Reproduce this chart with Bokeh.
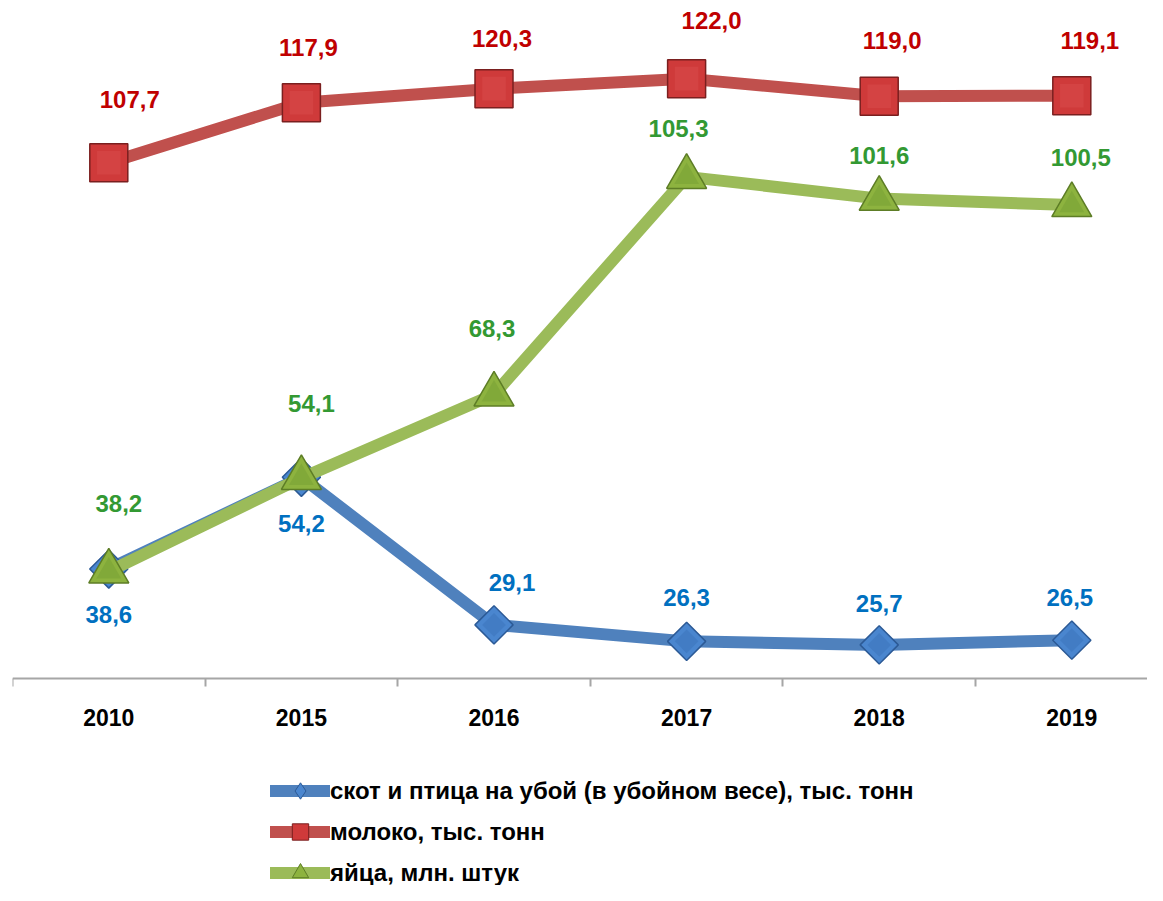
from bokeh.plotting import figure
from bokeh.models import Range1d, LinearAxis, FixedTicker, Legend, LegendItem, ColumnDataSource
from bokeh.core.properties import value
from bokeh.embed import file_html
from bokeh.resources import INLINE
import math

# ---------------- data ----------------
years = ["2010", "2015", "2016", "2017", "2018", "2019"]
meat = [38.6, 54.2, 29.1, 26.3, 25.7, 26.5]
milk = [107.7, 117.9, 120.3, 122.0, 119.0, 119.1]
eggs = [38.2, 54.1, 68.3, 105.3, 101.6, 100.5]
names = ["скот и птица на убой (в убойном весе), тыс. тонн",
         "молоко, тыс. тонн",
         "яйца, млн. штук"]

FONT = "Liberation Sans"

x = list(range(len(years)))

p = figure(width=1147, height=885, output_backend="svg", toolbar_location=None,
           x_range=Range1d(-0.5, 5.393), y_range=Range1d(-15.22, 135.29),
           x_axis_location=None, y_axis_location=None,
           min_border_left=12, min_border_right=0, min_border_top=0, min_border_bottom=0)
p.outline_line_color = None
p.grid.visible = False
p.background_fill_color = "white"

xaxis = LinearAxis(fixed_location=20,
                   ticker=FixedTicker(ticks=x, minor_ticks=[i - 0.5 for i in x]),
                   major_label_overrides={i: yr for i, yr in enumerate(years)})
xaxis.axis_line_color = "#a6a6a6"
xaxis.axis_line_width = 2
xaxis.major_tick_in = 0
xaxis.major_tick_out = 0
xaxis.minor_tick_in = 0
xaxis.minor_tick_out = 8
xaxis.minor_tick_line_color = "#a6a6a6"
xaxis.minor_tick_line_width = 2
xaxis.major_label_text_font = FONT
xaxis.major_label_text_font_style = "bold"
xaxis.major_label_text_font_size = "23px"
xaxis.major_label_text_color = "black"
xaxis.major_label_standoff = 23
p.add_layout(xaxis, "below")


def fmt(v):
    return f"{v:.1f}".replace(".", ",")


def series(vals, line_color, marker, legend_marker, size, fill, edge, angle, hi,
           lab_color, dx, dy):
    src = ColumnDataSource(dict(x=x, y=vals, lab=[fmt(v) for v in vals], dx=dx, dy=dy))
    ln = p.line("x", "y", source=src, line_color=line_color, line_width=12,
                line_join="round", line_cap="round")
    p.scatter("x", "y", source=src, marker=marker, size=size, angle=angle,
              fill_color=fill, line_color=edge, line_width=1.5)
    # lighter inner face to suggest the bevel
    p.scatter("x", "y", source=src, marker=marker, size=size * 0.62, angle=angle,
              fill_color=hi, fill_alpha=0.55, line_color=None)
    p.text("x", "y", text="lab", source=src, x_offset="dx", y_offset="dy",
           text_align="center", text_baseline="middle",
           text_font=value(FONT), text_font_style="bold", text_font_size="24px",
           text_color=lab_color)
    # legend swatch marker (no points drawn in the plot)
    nan_src = ColumnDataSource(dict(x=x, y=[float("nan")] * len(x)))
    leg = p.scatter("x", "y", source=nan_src, marker=legend_marker,
                    fill_color=fill, line_color=edge, line_width=1)
    return ln, leg


meat_r = series(meat, "#4f81bd", "square", "diamond", 27, "#4a86cf", "#2c5a96", math.pi / 4,
                "#3d74bb", "#0070c0", [0, 0, 18, 0, 0, -2], [45, 46, -42, -44, -41, -43])
milk_r = series(milk, "#c0504d", "square", "square", 38, "#cf3a3a", "#7a1f1f", 0,
                "#d84a4a", "#c00000", [21, 7, 8, 25, 13, 18], [-63, -55, -50, -58, -56, -55])
eggs_r = series(eggs, "#9bbb59", "triangle", "triangle", 40, "#8db33f", "#5d7d26", 0,
                "#79a035", "#339933", [10, 10, -2, -8, 0, 9], [-68, -74, -66, -48, -43, -48])

legend = Legend(items=[LegendItem(label=names[0], renderers=list(meat_r)),
                       LegendItem(label=names[1], renderers=list(milk_r)),
                       LegendItem(label=names[2], renderers=list(eggs_r))],
                location=(258, -8), orientation="vertical", padding=0, margin=0,
                spacing=0, glyph_width=60, glyph_height=41, label_height=26,
                label_standoff=0, label_text_font=FONT, label_text_font_style="bold",
                label_text_font_size="24px", label_text_color="black",
                border_line_color=None, background_fill_alpha=0)
p.add_layout(legend)

open("out.html", "w").write(file_html(p, INLINE))
